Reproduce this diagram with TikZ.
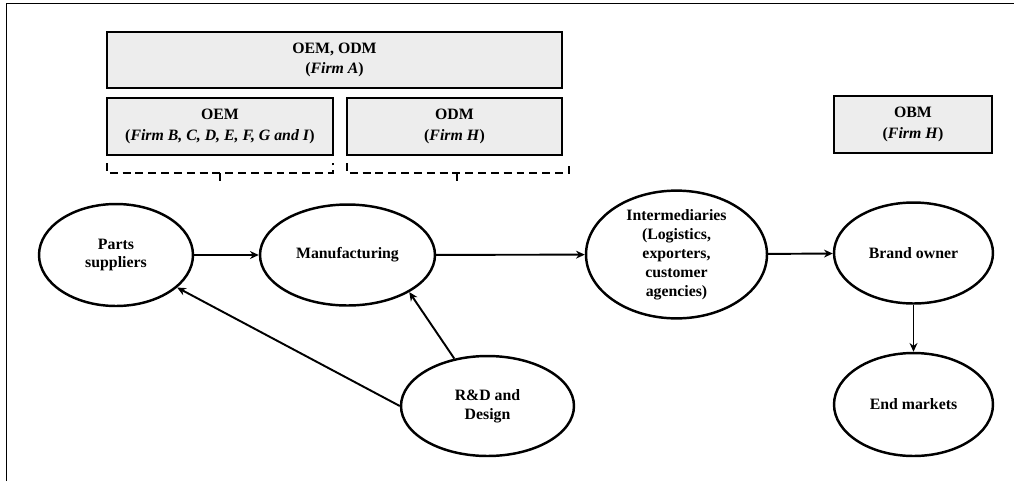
\documentclass[tikz,border=0pt]{standalone}
\usepackage{fontspec}
\setmainfont{Liberation Serif}
\usetikzlibrary{arrows.meta,shapes.geometric}
\definecolor{boxgrey}{RGB}{237,237,237}

\begin{document}
\begin{tikzpicture}[x=0.02cm,y=-0.02cm,
    font=\fontsize{9}{10.8}\selectfont\bfseries,
    stage/.style={shape=ellipse,draw,line width=1.4pt,inner sep=0pt,align=center},
    role/.style={shape=rectangle,draw,line width=1.6pt,fill=boxgrey,inner sep=0pt,align=center},
    flow/.style={-{Stealth[length=5pt,width=4.5pt]},line width=1.1pt},
    span/.style={dash pattern=on 4.5pt off 2.8pt,line width=0.7pt}]%
                \useasboundingbox (0,0) rectangle (1014,481);
                \draw[line width=1pt] (6.5,481) -- (6.5,3.5) -- (1014,3.5);

                % who does what
                \node[role,minimum width=9.1cm,minimum height=1.12cm] (firmA) at (334.5,60) {OEM, ODM\\[1pt](\textit{Firm A})};
                \node[role,minimum width=4.52cm,minimum height=1.14cm] (oem) at (220,126.5) {OEM\\[1pt](\textit{Firm B, C, D, E, F, G and I})};
                \node[role,minimum width=4.3cm,minimum height=1.14cm] (odm) at (454.5,126.5) {ODM\\[1pt](\textit{Firm H})};
                \node[role,minimum width=3.16cm,minimum height=1.14cm] (obm) at (913,124.5) {OBM\\[1pt](\textit{Firm H})};

                \foreach \l/\m/\r in {107/220/333, 347/457/569}
                    \draw[span] (\l,163) -- (\l,173) -- (\r,173) -- (\r,163) (\m,173) -- (\m,182);

                % value chain
                \node[stage,minimum width=3.08cm,minimum height=2.04cm] (parts) at (116,255) {Parts\\suppliers};
                \node[stage,minimum width=3.5cm,minimum height=2.02cm] (manu) at (347.5,255) {Manufacturing};
                \node[stage,minimum width=3.62cm,minimum height=2.54cm] (inter) at (676.5,254.5) {Intermediaries\\(Logistics,\\exporters,\\customer\\agencies)};
                \node[stage,minimum width=3.18cm,minimum height=2.02cm] (brand) at (913.5,253) {Brand owner};
                \node[stage,minimum width=3.18cm,minimum height=2.06cm] (endm) at (913.5,404.5) {End markets};
                \node[stage,minimum width=3.46cm,minimum height=2.0cm] (rd) at (487.5,406) {R\&D and\\Design};

                \path [flow] (parts) edge (manu);
                \path [flow] (manu) edge (inter);
                \path [flow] (inter) edge (brand);
                \path [flow] (brand) edge (endm);
                \path [flow] (rd.west) edge (parts);
                \path [flow] (rd.125) edge (manu.-31);
            \end{tikzpicture}
\end{document}
